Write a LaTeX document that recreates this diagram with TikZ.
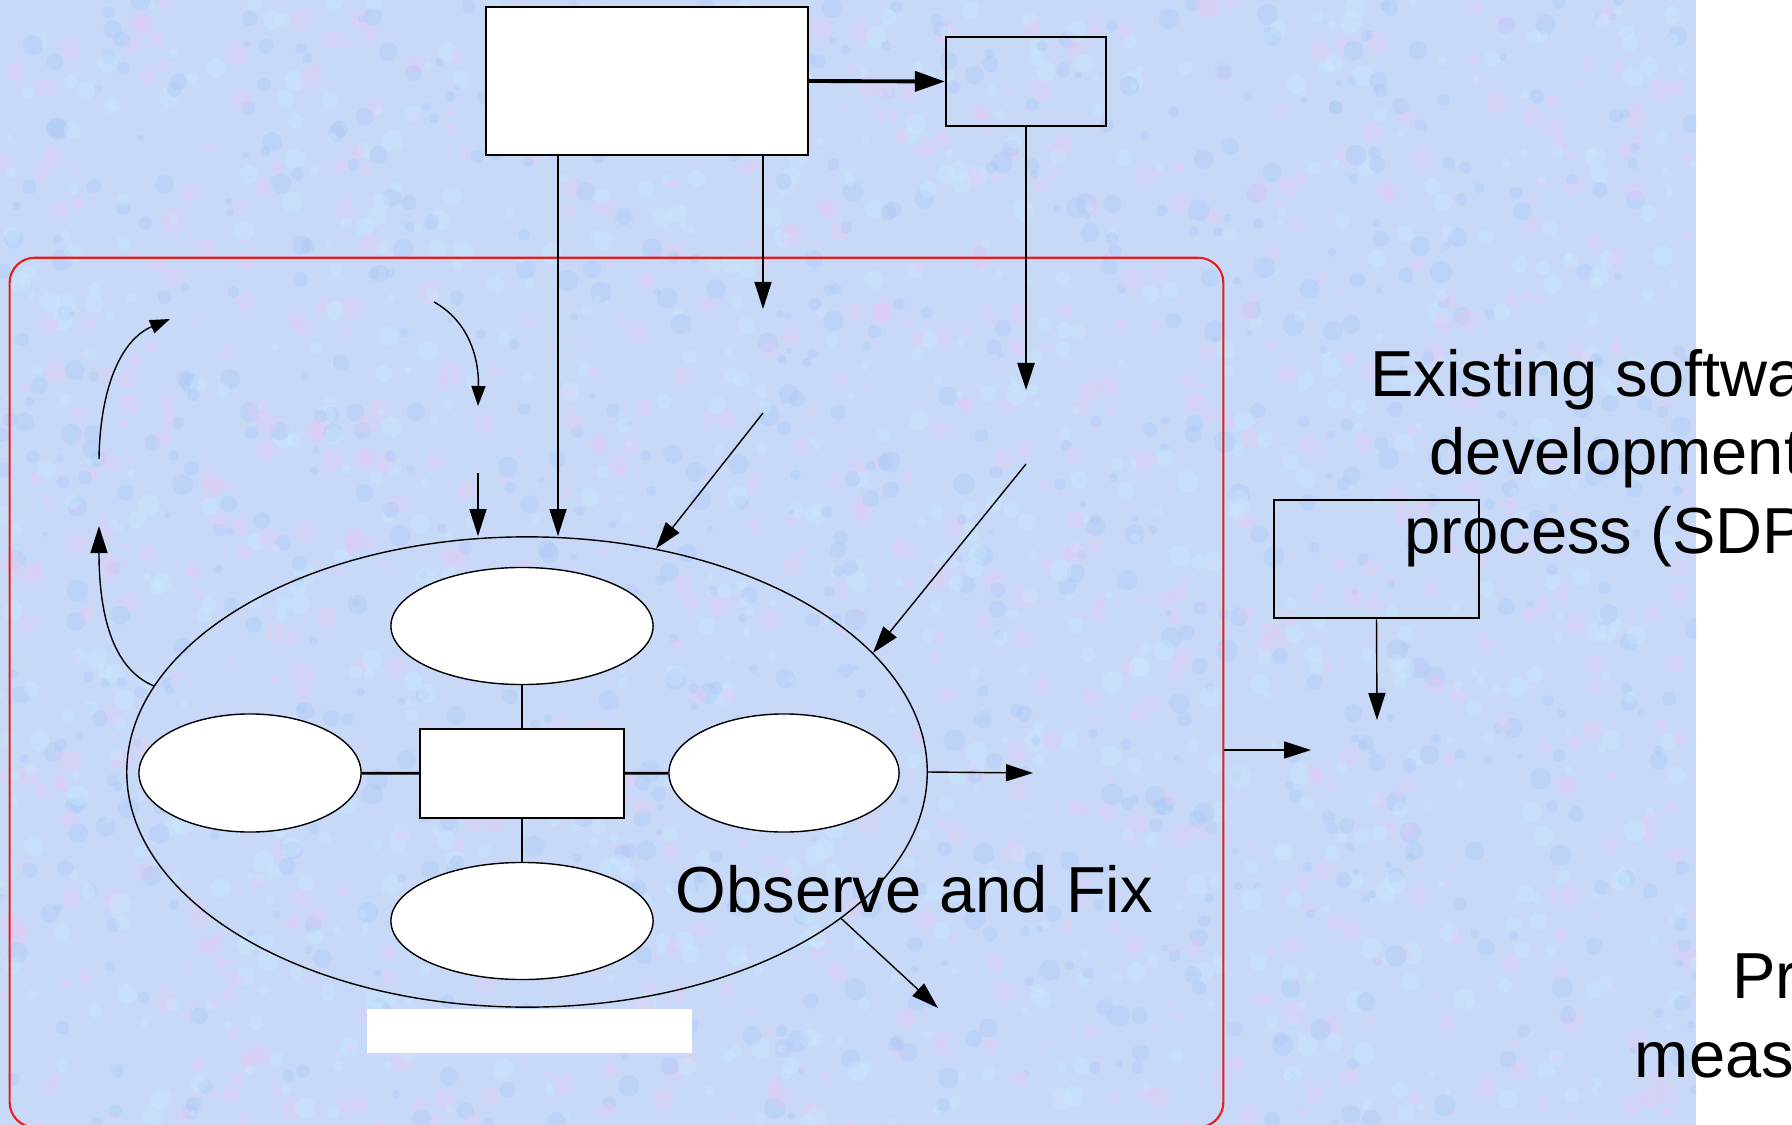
\documentclass[tikz,border=0pt]{standalone}
\usepackage{fontspec}
\setmainfont{Liberation Sans}
\usetikzlibrary{arrows.meta,shapes.geometric,calc}

\definecolor{paper}{RGB}{200,217,248}
\definecolor{mottleA}{RGB}{228,202,244}
\definecolor{mottleB}{RGB}{170,200,246}
\definecolor{mottleC}{RGB}{200,234,252}
\definecolor{framered}{RGB}{232,30,30}

\tikzset{
  whitebox/.style={draw, fill=white, line width=0.5pt, inner sep=0pt},
  openbox/.style={draw, line width=0.6pt, inner sep=0pt},
  blob/.style={ellipse, draw, fill=white, line width=0.4pt, inner sep=0pt},
  hull/.style={ellipse, draw, line width=0.4pt, inner sep=0pt},
  frame/.style={draw=framered, line width=0.6pt, rounded corners=0.25cm, inner sep=0pt},
  bond/.style={line width=0.8pt},
  link/.style={line width=0.4pt, -{Triangle[length=0.27cm,width=0.17cm]}},
  smalllink/.style={line width=0.4pt, -{Triangle[length=0.2cm,width=0.14cm]}},
  heavylink/.style={line width=1.1pt, -{Triangle[length=0.3cm,width=0.2cm]}},
  bigtext/.style={font=\fontsize{18.5}{22.2}\selectfont, inner sep=0pt, align=center},
}

\begin{document}
\begin{tikzpicture}[x=0.01cm, y=-0.01cm]
\useasboundingbox (0,0) rectangle (1792,1125);
\clip (0,0) rectangle (1792,1125);

% textured backdrop, white strip on the right left bare
\begin{scope}
  \clip (0,0) rectangle (1696,1125);
  \fill[paper] (0,0) rectangle (1696,1125);
  \pgfmathsetseed{42}
  \foreach \k in {1,...,2600}{
    \pgfmathsetmacro{\bx}{rnd*1696}
    \pgfmathsetmacro{\by}{rnd*1125}
    \pgfmathsetmacro{\br}{0.03+rnd*0.08}
    \pgfmathtruncatemacro{\bc}{rnd*3}
    \ifcase\bc \def\bcol{mottleA}\or\def\bcol{mottleB}\else\def\bcol{mottleC}\fi
    \fill[\bcol, opacity=0.4] (\bx,\by) circle[radius=\br cm];
  }
\end{scope}

% outer frame
\node[frame, minimum width=12.13cm, minimum height=8.69cm] (frame) at (616.5,692.5) {};

% top boxes
\node[whitebox, minimum width=3.22cm, minimum height=1.48cm] (topbox) at (647,81) {};
\node[openbox, minimum width=1.60cm, minimum height=0.89cm] (smallbox) at (1026,81.5) {};

% central cluster
\node[hull, minimum width=8.00cm, minimum height=4.70cm] (loop) at (527,772) {};
\node[blob, minimum width=2.62cm, minimum height=1.17cm] (etop) at (522,626) {};
\node[blob, minimum width=2.22cm, minimum height=1.18cm] (eleft) at (250,773) {};
\node[blob, minimum width=2.30cm, minimum height=1.18cm] (eright) at (784,773) {};
\node[blob, minimum width=2.62cm, minimum height=1.17cm] (ebottom) at (522,921) {};
\node[whitebox, line width=0.4pt, minimum width=2.04cm, minimum height=0.89cm] (core) at (522,773.5) {};

\draw[bond] (core) -- (etop);
\draw[bond] (core) -- (ebottom);
\draw[bond] (core) -- (eleft);
\draw[bond] (core) -- (eright);

% blank caption strip
\node[fill=white, inner sep=0pt, minimum width=3.24cm, minimum height=0.44cm] (caption) at (529.5,1031) {};

% right-hand box
\node[openbox, line width=0.8pt, minimum width=2.05cm, minimum height=1.18cm] (sdpbox) at (1376.5,559) {};

% free connector ends
\coordinate (a1) at (558,0);
\coordinate (m1) at (763,309);
\coordinate (m2) at (763,413);
\coordinate (s1) at (1026,390);
\coordinate (s2) at (1026,464);
\coordinate (c1) at (434,302);
\coordinate (c2) at (478,406);
\coordinate (c3) at (478,473);
\coordinate (l1) at (99,526);
\coordinate (l2) at (99,459);
\coordinate (l3) at (170,319);
\coordinate (o1) at (1033,773);
\coordinate (o2) at (938,1008);
\coordinate (feed) at (1311,750);
\coordinate (p1) at (1377,720);

% connectors
\draw[heavylink] (topbox.east) -- (smallbox.west);
\draw[link] (topbox.south -| a1) -- (a1 |- loop.north);
\draw[link] (topbox.south -| m1) -- (m1);
\draw[link] (m2) -- (loop.60);
\draw[link, line width=0.7pt] (smallbox.south) -- (s1);
\draw[link] (s2) -- (loop.19);
\draw[smalllink] (c1) .. controls (470,322) and (479,360) .. (c2);
\draw[link] (c3) -- (c3 |- loop.north);
\draw[link] (loop.167) .. controls (115,670) and (99,620) .. (l1);
\draw[smalllink] (l2) .. controls (100,390) and (120,340) .. (l3);
\draw[link] (loop.east) -- (o1);
\draw[link] (loop.-25) -- (o2);
\draw[link] (feed -| frame.east) -- (feed);
\draw[link] (sdpbox.south) -- (p1);

% labels (base anchor sits on the last line)
\node[bigtext, anchor=base west] (obs) at (675,912) {Observe and Fix};
\node[bigtext, anchor=base] (sdp) at (1616,553) {Existing software\\development\\process (SDP)};
\node[bigtext, anchor=base] (meas) at (1850,1077) {Process\\measurements};
\end{tikzpicture}
\end{document}
